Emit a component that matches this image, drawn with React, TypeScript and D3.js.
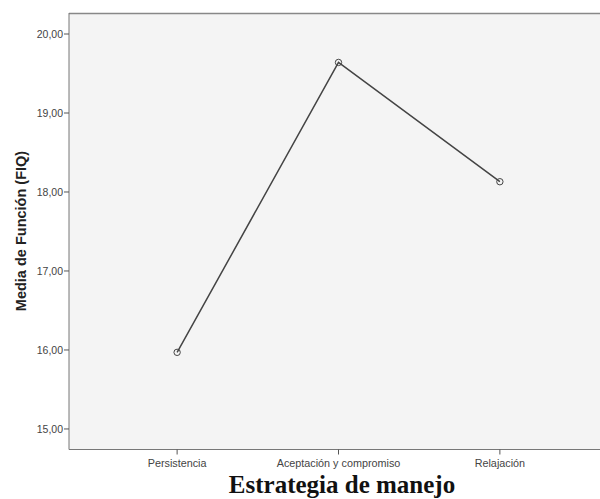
import React from "react";
import * as d3 from "d3";

const categories = ["Persistencia", "Aceptación y compromiso", "Relajación"];
const means = [15.97, 19.64, 18.13];
const yTicks = [15, 16, 17, 18, 19, 20];

const W = 600;
const H = 499;
const left = 69;
const top = 13;
const bottom = 449.5;
const right = 608;

export default function App() {
  const x = d3.scalePoint<string>().domain(categories).range([left, right]).padding(0.67);
  const y = d3.scaleLinear().domain([14.74, 20.266]).range([bottom, top]);
  const line = d3
    .line<number>()
    .x((_, i) => x(categories[i]) as number)
    .y((d) => y(d));
  const fmt = (v: number) => v.toFixed(2).replace(".", ",");
  const tickFont = "Arial, 'Liberation Sans', sans-serif";
  return (
    <div style={{ position: "absolute", left: 0, top: 0 }}>
      <svg width={W} height={H} style={{ display: "block", background: "#fff" }}>
        <rect x={left} y={top} width={right - left} height={bottom - top} fill="#f4f4f4" />
        <line x1={left} x2={W} y1={top + 0.5} y2={top + 0.5} stroke="#888" strokeWidth={1.5} />
        <line x1={left} x2={left} y1={top} y2={bottom} stroke="#777" strokeWidth={1} />
        <line x1={left} x2={W} y1={bottom} y2={bottom} stroke="#777" strokeWidth={1.2} />
        {yTicks.map((t) => (
          <g key={t} transform={`translate(0,${y(t)})`}>
            <line x1={left - 5} x2={left} stroke="#555" />
            <text x={left - 6} dy="0.35em" textAnchor="end" fontSize={10.5} fill="#444" fontFamily={tickFont}>
              {fmt(t)}
            </text>
          </g>
        ))}
        {categories.map((c) => (
          <g key={c} transform={`translate(${x(c)},0)`}>
            <line y1={bottom} y2={bottom + 5} stroke="#555" />
            <text y={bottom + 17} textAnchor="middle" fontSize={10.8} fill="#444" fontFamily={tickFont}>
              {c}
            </text>
          </g>
        ))}
        <path d={line(means) || ""} fill="none" stroke="#444" strokeWidth={1.5} />
        {means.map((m, i) => (
          <circle key={i} cx={x(categories[i])} cy={y(m)} r={3.2} fill="none" stroke="#444" strokeWidth={1} />
        ))}
        <text
          transform={`translate(26,231) rotate(-90)`}
          textAnchor="middle"
          fontSize={14.5}
          fontWeight="bold"
          fill="#222"
          fontFamily={tickFont}
        >
          Media de Función (FIQ)
        </text>
        <text
          x={342}
          y={493}
          textAnchor="middle"
          fontSize={25}
          fontWeight="bold"
          fill="#111"
          fontFamily="'Liberation Serif', 'Times New Roman', serif"
        >
          Estrategia de manejo
        </text>
      </svg>
    </div>
  );
}
